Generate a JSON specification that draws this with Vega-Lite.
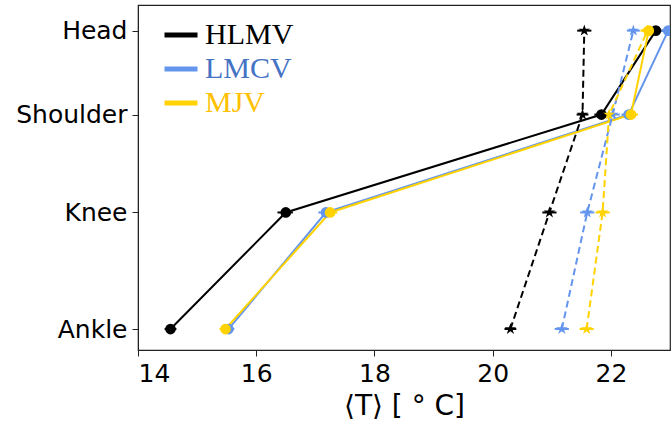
{
  "$schema": "https://vega.github.io/schema/vega-lite/v6.json",
  "width": 532,
  "height": 345,
  "autosize": {"type": "none"},
  "padding": {"left": 138, "top": 5, "right": 2, "bottom": 75},
  "background": "white",
  "config": {
    "view": {"stroke": "#222", "strokeWidth": 1.2},
    "font": "DejaVu Sans",
    "axis": {"grid": false, "domainColor": "#222", "tickColor": "#222", "labelColor": "black", "titleColor": "black", "labelFont": "DejaVu Sans", "titleFont": "DejaVu Sans", "titleFontWeight": "normal"}
  },
  "data": {
    "values": [
      {"series": "HLMV", "kind": "solid", "loc": "Ankle", "h": 0.1, "T": 14.55, "lo": 14.45, "hi": 14.65},
      {"series": "HLMV", "kind": "solid", "loc": "Knee", "h": 0.6, "T": 16.5, "lo": 16.36, "hi": 16.62},
      {"series": "HLMV", "kind": "solid", "loc": "Shoulder", "h": 1.02, "T": 21.84, "lo": 21.72, "hi": 21.96},
      {"series": "HLMV", "kind": "solid", "loc": "Head", "h": 1.38, "T": 22.76, "lo": 22.64, "hi": 22.88},
      {"series": "HLMV", "kind": "dashed", "loc": "Ankle", "h": 0.1, "T": 20.3, "lo": 20.2, "hi": 20.4},
      {"series": "HLMV", "kind": "dashed", "loc": "Knee", "h": 0.6, "T": 20.96, "lo": 20.84, "hi": 21.08},
      {"series": "HLMV", "kind": "dashed", "loc": "Shoulder", "h": 1.02, "T": 21.52, "lo": 21.42, "hi": 21.62},
      {"series": "HLMV", "kind": "dashed", "loc": "Head", "h": 1.38, "T": 21.55, "lo": 21.43, "hi": 21.67},
      {"series": "LMCV", "kind": "solid", "loc": "Ankle", "h": 0.1, "T": 15.53, "lo": 15.43, "hi": 15.63},
      {"series": "LMCV", "kind": "solid", "loc": "Knee", "h": 0.6, "T": 17.18, "lo": 17.05, "hi": 17.31},
      {"series": "LMCV", "kind": "solid", "loc": "Shoulder", "h": 1.02, "T": 22.3, "lo": 22.18, "hi": 22.42},
      {"series": "LMCV", "kind": "solid", "loc": "Head", "h": 1.38, "T": 22.97, "lo": 22.85, "hi": 23.09},
      {"series": "LMCV", "kind": "dashed", "loc": "Ankle", "h": 0.1, "T": 21.17, "lo": 21.05, "hi": 21.29},
      {"series": "LMCV", "kind": "dashed", "loc": "Knee", "h": 0.6, "T": 21.6, "lo": 21.48, "hi": 21.72},
      {"series": "LMCV", "kind": "dashed", "loc": "Shoulder", "h": 1.02, "T": 22.03, "lo": 21.91, "hi": 22.15},
      {"series": "LMCV", "kind": "dashed", "loc": "Head", "h": 1.38, "T": 22.38, "lo": 22.27, "hi": 22.49},
      {"series": "MJV", "kind": "solid", "loc": "Ankle", "h": 0.1, "T": 15.48, "lo": 15.38, "hi": 15.58},
      {"series": "MJV", "kind": "solid", "loc": "Knee", "h": 0.6, "T": 17.25, "lo": 17.13, "hi": 17.37},
      {"series": "MJV", "kind": "solid", "loc": "Shoulder", "h": 1.02, "T": 22.34, "lo": 22.22, "hi": 22.46},
      {"series": "MJV", "kind": "solid", "loc": "Head", "h": 1.38, "T": 22.64, "lo": 22.52, "hi": 22.76},
      {"series": "MJV", "kind": "dashed", "loc": "Ankle", "h": 0.1, "T": 21.59, "lo": 21.47, "hi": 21.71},
      {"series": "MJV", "kind": "dashed", "loc": "Knee", "h": 0.6, "T": 21.86, "lo": 21.74, "hi": 21.98},
      {"series": "MJV", "kind": "dashed", "loc": "Shoulder", "h": 1.02, "T": 21.97, "lo": 21.85, "hi": 22.09},
      {"series": "MJV", "kind": "dashed", "loc": "Head", "h": 1.38, "T": 22.62, "lo": 22.5, "hi": 22.74}
    ]
  },
  "encoding": {
    "x": {
      "field": "T", "type": "quantitative",
      "scale": {"domain": [14, 23], "nice": false, "zero": false},
      "axis": {"values": [14, 16, 18, 20, 22], "title": "⟨T⟩ [ ° C]", "titleFontSize": 28, "titlePadding": 6, "labelFontSize": 25, "tickSize": 6, "labelPadding": 5, "format": "d"}
    },
    "y": {
      "field": "h", "type": "quantitative",
      "scale": {"domain": [0.01, 1.49], "nice": false, "zero": false},
      "axis": {"values": [0.1, 0.6, 1.02, 1.38], "title": null, "labelFontSize": 25, "tickSize": 6, "labelPadding": 5,
        "labelExpr": "datum.value < 0.3 ? 'Ankle' : datum.value < 0.8 ? 'Knee' : datum.value < 1.2 ? 'Shoulder' : 'Head'"}
    },
    "color": {
      "field": "series", "type": "nominal",
      "scale": {"domain": ["HLMV", "LMCV", "MJV"], "range": ["#000000", "#6495ED", "#FFD200"]},
      "legend": {
        "orient": "none", "legendX": 24, "legendY": 11, "title": null,
        "symbolType": "stroke", "symbolStrokeWidth": 5, "symbolSize": 1089,
        "labelFont": "Liberation Serif", "labelFontSize": 30, "labelOffset": 5, "rowPadding": 0, "padding": 0, "labelLimit": 300,
        "encode": {
          "labels": {"update": {"fill": {"signal": "datum.value == 'LMCV' ? '#4472C4' : datum.value == 'MJV' ? '#FFC000' : '#000000'"}}},
          "symbols": {"update": {"stroke": {"signal": "datum.value == 'LMCV' ? '#4472C4' : datum.value == 'MJV' ? '#FFC000' : '#000000'"}}}
        }
      }
    }
  },
  "layer": [
    {
      "transform": [{"filter": "datum.kind == 'solid'"}],
      "mark": {"type": "line", "strokeWidth": 2, "clip": true},
      "encoding": {"order": {"field": "h", "type": "quantitative"}}
    },
    {
      "transform": [{"filter": "datum.kind == 'dashed'"}],
      "mark": {"type": "line", "strokeWidth": 2, "strokeDash": [7, 4], "clip": true},
      "encoding": {"order": {"field": "h", "type": "quantitative"}}
    },
    {
      "mark": {"type": "rule", "strokeWidth": 2, "clip": true},
      "encoding": {
        "x": {"field": "lo", "type": "quantitative"},
        "x2": {"field": "hi"}
      }
    },
    {
      "transform": [{"filter": "datum.kind == 'solid'"}],
      "mark": {"type": "point", "shape": "circle", "filled": true, "opacity": 1, "size": 115, "clip": true}
    },
    {
      "transform": [{"filter": "datum.kind == 'dashed'"}],
      "mark": {"type": "point", "shape": "M0,-1L0.2245,-0.309L0.951,-0.309L0.363,0.118L0.588,0.809L0,0.382L-0.588,0.809L-0.363,0.118L-0.951,-0.309L-0.2245,-0.309Z", "filled": true, "opacity": 1, "size": 150, "clip": true}
    }
  ]
}
